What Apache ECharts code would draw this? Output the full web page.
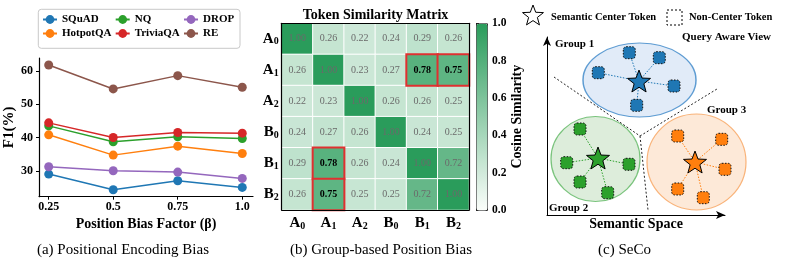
<!DOCTYPE html>
<html><head><meta charset="utf-8">
<script src="https://cdn.jsdelivr.net/npm/echarts@6/dist/echarts.min.js"></script>
<style>html,body{margin:0;padding:0;background:#fff}#c{width:785px;height:268px}</style>
</head><body><div id="c"></div>
<script>
// ---------- Panel (a) data ----------
const betaValues = [0.25, 0.5, 0.75, 1.0];
const betaTickLabels = ['0.25', '0.5', '0.75', '1.0'];
const f1Ticks = [30, 40, 50, 60];
const squad = [29.0, 24.3, 27.0, 25.0];
const hotpotqa = [40.8, 34.7, 37.4, 35.2];
const nq = [43.5, 38.7, 40.2, 39.7];
const triviaqa = [44.4, 40.0, 41.5, 41.3];
const drop = [31.2, 30.0, 29.6, 27.7];
const re = [61.8, 54.6, 58.6, 55.1];

// ---------- Panel (b) data ----------
const tokens = ['A0', 'A1', 'A2', 'B0', 'B1', 'B2'];
const simA0 = [1.00, 0.26, 0.22, 0.24, 0.29, 0.26];
const simA1 = [0.26, 1.00, 0.23, 0.27, 0.78, 0.75];
const simA2 = [0.22, 0.23, 1.00, 0.26, 0.26, 0.25];
const simB0 = [0.24, 0.27, 0.26, 1.00, 0.24, 0.25];
const simB1 = [0.29, 0.78, 0.26, 0.24, 1.00, 0.72];
const simB2 = [0.26, 0.75, 0.25, 0.25, 0.72, 1.00];
const highlightCells = [[1, 4], [1, 5], [4, 1], [5, 1]]; // [row, col]
const colorbarTicks = [0, 0.2, 0.4, 0.6, 0.8, 1.0];

// ---------- Panel (c) data (semantic-space coordinates) ----------
const groupNames = ['Group 1', 'Group 2', 'Group 3'];
const groupCenters = [[92.5, 135], [48.5, 56], [149.5, 53]];
const centerTokens = [[92, 134], [51, 57], [148, 53]];
const group1Tokens = [[82.3, 162.3], [112.3, 157.3], [51.3, 142.3], [127, 129], [89.7, 109.7]];
const group2Tokens = [[33, 86], [19.7, 52.3], [82, 50.7], [33, 33], [60.7, 22.3]];
const group3Tokens = [[130.7, 79], [174.7, 75.7], [178, 45.7], [130.7, 26], [156.3, 17.3]];
const boundaryLines = [[[7, 138], [93, 79]], [[93, 79], [170, 126]], [[93, 79], [101, 5]]];

// ---------- styles ----------
const FONT = 'Liberation Serif';
const lineColors = ['#1f77b4', '#ff7f0e', '#2ca02c', '#d62728', '#9467bd', '#8c564b'];
const groupFill = ['#dae6f6', '#d4e8d2', '#fde4ce'];
const groupStroke = ['#3a86c8', '#5cb660', '#f7a25c'];
const groupMain = ['#1f77b4', '#2ca02c', '#ff7f0e'];
const ellipseSizes = [[113, 74], [89, 85], [99, 96]];

const lineSeriesDefs = [
  ['SQuAD', squad], ['HotpotQA', hotpotqa], ['NQ', nq],
  ['TriviaQA', triviaqa], ['DROP', drop], ['RE', re]
];

function starPts(cx, cy, R, r) {
  const pts = [];
  for (let k = 0; k < 10; k++) {
    const a = -Math.PI / 2 + k * Math.PI / 5;
    const rad = k % 2 === 0 ? R : r;
    pts.push([cx + rad * Math.cos(a), cy + rad * Math.sin(a)]);
  }
  return pts;
}
const starSymbol = 'path://' + starPts(50, 50, 50, 21).map((p, i) => (i ? 'L' : 'M') + p[0].toFixed(2) + ',' + p[1].toFixed(2)).join(' ') + ' Z';

const chart = echarts.init(document.getElementById('c'));

const simMatrix = [simA0, simA1, simA2, simB0, simB1, simB2];
const isHi = (r, c) => highlightCells.some(h => h[0] === r && h[1] === c);
const heatNormal = [], heatHi = [];
simMatrix.forEach((row, r) => row.forEach((v, c) => {
  const item = { value: [c, r, v] };
  if (isHi(r, c)) {
    item.itemStyle = { borderColor: '#e03030', borderWidth: 2 };
    item.label = { fontWeight: 'bold', color: '#000' };
    heatHi.push(item);
  } else heatNormal.push(item);
}));

const tokenRich = {
  m: { fontFamily: FONT, fontWeight: 'bold', fontSize: 15, color: '#000', lineHeight: 16 },
  s: { fontFamily: FONT, fontWeight: 'bold', fontSize: 10, color: '#000', lineHeight: 9, verticalAlign: 'bottom' }
};
const tokenFmt = v => '{m|' + v[0] + '}{s|' + v.slice(1) + '}';

const series = [];
lineSeriesDefs.forEach((d, i) => {
  series.push({
    type: 'line', name: d[0], xAxisIndex: 0, yAxisIndex: 0,
    data: betaValues.map((b, j) => [b, d[1][j]]),
    symbol: 'circle', symbolSize: 9,
    lineStyle: { width: 1.5, color: lineColors[i] },
    itemStyle: { color: lineColors[i] },
    z: 2 + i
  });
});
series.push({
  type: 'heatmap', xAxisIndex: 1, yAxisIndex: 1,
  data: heatNormal.concat(heatHi),
  itemStyle: { borderColor: '#fff', borderWidth: 1 },
  label: { show: true, formatter: p => p.value[2].toFixed(2), fontFamily: FONT, fontSize: 10, color: '#6a6a6a' },
  emphasis: { disabled: true }
});
// panel (c)
series.push({
  type: 'scatter', xAxisIndex: 2, yAxisIndex: 3, clip: false, z: 1,
  data: groupCenters.map((c, i) => ({
    value: c, symbolSize: ellipseSizes[i],
    itemStyle: { color: groupFill[i], borderColor: groupStroke[i], borderWidth: 1.2 }
  })),
  symbol: 'circle', silent: true
});
series.push({
  type: 'lines', coordinateSystem: 'cartesian2d', xAxisIndex: 2, yAxisIndex: 3, z: 2,
  data: boundaryLines.map(l => ({ coords: l })),
  lineStyle: { color: '#222', width: 1, type: [2, 2], opacity: 1 }, silent: true
});
const groupTokenSets = [group1Tokens, group2Tokens, group3Tokens];
const connData = [], squareData = [];
groupTokenSets.forEach((set, g) => set.forEach(p => {
  connData.push({ coords: [centerTokens[g], p], lineStyle: { color: groupMain[g] } });
  squareData.push({ value: p, itemStyle: { color: groupMain[g] } });
}));
series.push({
  type: 'lines', coordinateSystem: 'cartesian2d', xAxisIndex: 2, yAxisIndex: 3, z: 3,
  data: connData, lineStyle: { width: 1, type: [1.5, 1.5], opacity: 1 }, silent: true
});
series.push({
  type: 'scatter', xAxisIndex: 2, yAxisIndex: 3, clip: false, z: 4,
  symbol: 'roundRect', symbolSize: 12, data: squareData,
  itemStyle: { borderColor: '#111', borderWidth: 1, borderType: [1.5, 1.5], opacity: 1 }, silent: true
});
series.push({
  type: 'scatter', xAxisIndex: 2, yAxisIndex: 3, clip: false, z: 5,
  symbol: starSymbol, symbolKeepAspect: true, symbolSize: 23,
  data: centerTokens.map((p, g) => ({ value: p, itemStyle: { color: groupMain[g] } })),
  itemStyle: { borderColor: '#000', borderWidth: 1, opacity: 1 }, silent: true
});

const boldTxt = (size) => ({ fontFamily: FONT, fontWeight: 'bold', fontSize: size, color: '#000' });
const legendBase = {
  orient: 'vertical', top: 14, itemWidth: 14, itemHeight: 11, itemGap: 3,
  selectedMode: false, textStyle: boldTxt(11), padding: 0
};

const textEl = (x, y, t, size, bold, align) => ({
  type: 'text', x: x, y: y,
  style: { text: t, fontFamily: FONT, fontWeight: bold ? 'bold' : 'normal', fontSize: size, fill: '#000', align: align || 'left', verticalAlign: 'middle' }
});

const option = {
  animation: false,
  textStyle: { fontFamily: FONT },
  grid: [
    { left: 39, top: 58, width: 214, height: 138.7 },
    { left: 281.7, top: 23.3, width: 187.3, height: 186.7 },
    { left: 476, top: 23.3, width: 11, height: 186.7 },
    { left: 547, top: 37, width: 178, height: 178 }
  ],
  legend: [
    Object.assign({}, legendBase, { data: ['SQuAD', 'HotpotQA'], left: 42 }),
    Object.assign({}, legendBase, { data: ['NQ', 'TriviaQA'], left: 114.7 }),
    Object.assign({}, legendBase, { data: ['DROP', 'RE'], left: 183 })
  ],
  xAxis: [
    {
      gridIndex: 0, type: 'value', min: 0.2124, max: 1.0416,
      axisLine: { onZero: false, lineStyle: { color: '#000', width: 1.2 } },
      axisTick: { show: true, customValues: betaValues, length: 3, lineStyle: { color: '#000' } },
      axisLabel: { customValues: betaValues, formatter: v => betaTickLabels[betaValues.indexOf(v)], margin: 4, ...boldTxt(12) },
      splitLine: { show: false },
      name: 'Position Bias Factor (β)', nameLocation: 'middle', nameGap: 17, nameTextStyle: boldTxt(14)
    },
    {
      gridIndex: 1, type: 'category', data: tokens, position: 'bottom', z: 10,
      axisLine: { lineStyle: { color: '#000', width: 1.2 } }, axisTick: { show: false },
      axisLabel: { interval: 0, formatter: tokenFmt, rich: tokenRich, margin: 5 }, splitLine: { show: false }
    },
    { gridIndex: 3, type: 'value', min: 0, max: 178,
      axisLine: { onZero: false, symbol: ['none', 'arrow'], symbolSize: [6, 9], lineStyle: { color: '#000', width: 1 } },
      axisTick: { show: false }, axisLabel: { show: false }, splitLine: { show: false },
      name: 'Semantic Space', nameLocation: 'middle', nameGap: 2, nameTextStyle: boldTxt(14) },
    { gridIndex: 1, type: 'category', data: tokens, position: 'top', z: 10,
      axisLine: { lineStyle: { color: '#000', width: 1.2 } }, axisTick: { show: false }, axisLabel: { show: false } },
    { gridIndex: 2, type: 'value', min: 0, max: 1, show: false }
  ],
  yAxis: [
    {
      gridIndex: 0, type: 'value', min: 22.2, max: 63.9,
      axisLine: { show: true, onZero: false, lineStyle: { color: '#000', width: 1.2 } },
      axisTick: { show: true, customValues: f1Ticks, length: 3, lineStyle: { color: '#000' } },
      axisLabel: { customValues: f1Ticks, margin: 6, ...boldTxt(12) },
      splitLine: { show: false },
      name: 'F1(%)', nameLocation: 'middle', nameGap: 19, nameRotate: 90, nameTextStyle: boldTxt(15)
    },
    {
      gridIndex: 1, type: 'category', data: tokens, inverse: true, z: 10,
      axisLine: { lineStyle: { color: '#000', width: 1.2 } }, axisTick: { show: false },
      axisLabel: { interval: 0, formatter: tokenFmt, rich: tokenRich, margin: 3 }, splitLine: { show: false }
    },
    {
      gridIndex: 2, type: 'value', min: 0, max: 1, interval: 0.2, position: 'right',
      axisLine: { show: false }, axisTick: { show: true, length: 3, lineStyle: { color: '#000' } },
      axisLabel: { formatter: v => v.toFixed(1), margin: 5, ...boldTxt(11.5) }, splitLine: { show: false },
      name: 'Cosine Similarity', nameLocation: 'middle', nameRotate: 90, nameGap: 23, nameTextStyle: boldTxt(14)
    },
    { gridIndex: 3, type: 'value', min: 0, max: 178,
      axisLine: { show: true, onZero: false, symbol: ['none', 'arrow'], symbolSize: [6, 9], lineStyle: { color: '#000', width: 1 } },
      axisTick: { show: false }, axisLabel: { show: false }, splitLine: { show: false } },
    { gridIndex: 1, type: 'category', data: tokens, inverse: true, position: 'right', z: 10,
      axisLine: { lineStyle: { color: '#000', width: 1.2 } }, axisTick: { show: false }, axisLabel: { show: false } }
  ],
  visualMap: {
    type: 'continuous', min: 0, max: 1, seriesIndex: 6, orient: 'vertical',
    left: 476, top: 23.3, itemWidth: 11, itemHeight: 186.7, calculable: false, hoverLink: false,
    padding: 0, borderColor: '#333', borderWidth: 1, showLabel: false,
    inRange: { color: ['#fbfefb', '#2a9c5b'] }
  },
  series: series,
  graphic: [
    { type: 'rect', shape: { x: 38.3, y: 9.3, width: 201.7, height: 39, r: 3 }, style: { fill: 'none', stroke: '#c8c8c8', lineWidth: 1 } },
    textEl(375.5, 15, 'Token Similarity Matrix', 14, true, 'center'),
    textEl(123, 250, '(a) Positional Encoding Bias', 15, false, 'center'),
    textEl(381, 250, '(b) Group-based Position Bias', 15, false, 'center'),
    textEl(624.5, 250, '(c) SeCo', 15, false, 'center'),
    { type: 'polygon', shape: { points: starPts(533, 16, 11, 4.6) }, style: { fill: 'none', stroke: '#000', lineWidth: 1 } },
    textEl(551, 17, 'Semantic Center Token', 10.5, true),
    { type: 'rect', shape: { x: 667, y: 10, width: 15, height: 15 }, style: { fill: 'none', stroke: '#000', lineWidth: 1, lineDash: [2, 2] } },
    textEl(689, 17, 'Non-Center Token', 10.5, true),
    textEl(682, 37, 'Query Aware View', 11, true),
    textEl(555, 44, groupNames[0], 11, true),
    textEl(549, 208, groupNames[1], 11, true),
    textEl(707, 110, groupNames[2], 11, true)
  ]
};
chart.setOption(option);
</script>
</body></html>
